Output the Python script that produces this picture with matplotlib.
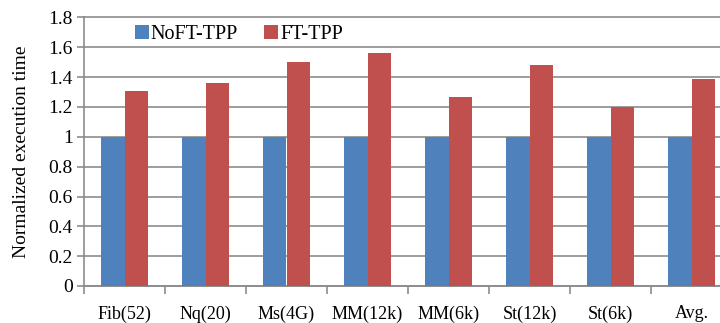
import numpy as np
import matplotlib.pyplot as plt
from matplotlib.ticker import FixedLocator, FuncFormatter

categories = ["Fib(52)", "Nq(20)", "Ms(4G)", "MM(12k)", "MM(6k)", "St(12k)", "St(6k)", "Avg."]
noft_tpp = [1, 1, 1, 1, 1, 1, 1, 1]
ft_tpp = [1.31, 1.36, 1.505, 1.56, 1.265, 1.48, 1.20, 1.385]
y_ticks = [0, 0.2, 0.4, 0.6, 0.8, 1, 1.2, 1.4, 1.6, 1.8]

plt.rcParams['font.family'] = ['Liberation Serif', 'DejaVu Serif']

fig = plt.figure(figsize=(7.2, 3.23), dpi=100)
ax = fig.add_axes([84 / 720, 37 / 323, 648 / 720, 268.5 / 323])

x = np.arange(len(categories))
w = 0.285
ax.bar(x - w / 2, noft_tpp, w, color='#4F81BD', label='NoFT-TPP', zorder=3)
ax.bar(x + w / 2, ft_tpp, w, color='#C0504D', label='FT-TPP', zorder=3)

ax.set_xlim(-0.5, len(categories) - 0.5)
ax.set_ylim(0, 1.8)
ax.yaxis.set_major_locator(FixedLocator(y_ticks))
ax.yaxis.set_major_formatter(FuncFormatter(lambda v, p: '%g' % round(v, 1)))
ax.grid(axis='y', color='#8c8c8c', linewidth=1.2, zorder=0, clip_on=False)

ax.set_xticks(x)
ax.set_xticklabels(categories)
ax.xaxis.set_minor_locator(FixedLocator(np.arange(-0.5, len(categories), 1)))
ax.tick_params(axis='x', which='major', length=0, pad=14, labelsize=13)
ax.tick_params(axis='x', which='minor', length=6, color='#8c8c8c', width=1.2)
ax.tick_params(axis='y', length=5, color='#8c8c8c', width=1.2, labelsize=14, pad=3)

for s in ['top', 'right']:
    ax.spines[s].set_visible(False)
for s in ['left', 'bottom']:
    ax.spines[s].set_color('#8c8c8c')
    ax.spines[s].set_linewidth(1.2)

ax.set_ylabel('Normalized execution time', fontsize=14, labelpad=13)

ax.legend(loc='upper left', bbox_to_anchor=(0.05, 1.04), ncol=2, frameon=False,
          fontsize=14.5, handlelength=0.7, handleheight=0.7, handletextpad=0.1,
          columnspacing=1.3)

fig.savefig('out.png', dpi=100)
